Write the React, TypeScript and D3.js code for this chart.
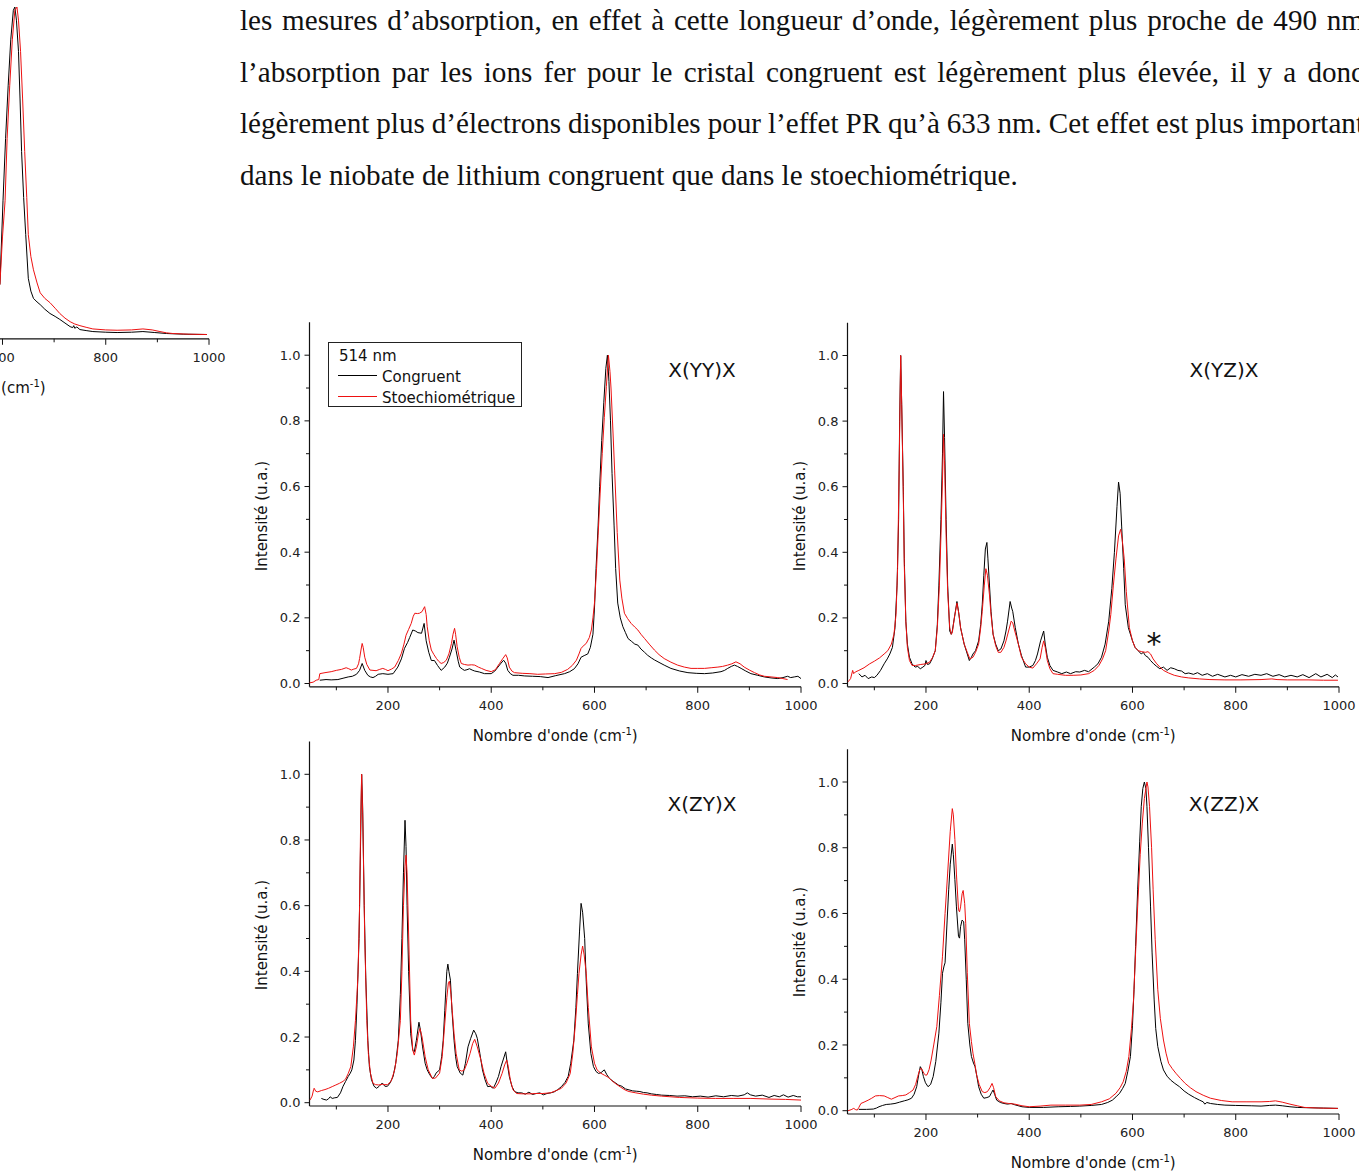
import React, { useEffect, useRef } from "react";
import * as d3 from "d3";

type Pt = [number, number];

// ---------- Paragraph text ----------
const paragraphLines: string[] = [
  "les mesures d’absorption, en effet à cette longueur d’onde, légèrement plus proche de 490 nm",
  "l’absorption par les ions fer pour le cristal congruent est légèrement plus élevée, il y a donc",
  "légèrement plus d’électrons disponibles pour l’effet PR qu’à 633 nm. Cet effet est plus important",
  "dans le niobate de lithium congruent que dans le stoechiométrique.",
];

// ---------- Tick values ----------
const xMajorTicks = [200, 400, 600, 800, 1000];
const xMinorTicks = [100, 300, 500, 700, 900];
const yMajorTicks = [0, 0.2, 0.4, 0.6, 0.8, 1.0];
const yMinorTicks = [0.1, 0.3, 0.5, 0.7, 0.9];

const legendTitle = "514 nm";
const seriesNames = ["Congruent", "Stoechiométrique"];
const panelTitles = ["X(YY)X", "X(YZ)X", "X(ZY)X", "X(ZZ)X"];

// ---------- Spectra (wavenumber cm-1, normalised intensity) ----------
// Partially visible spectrum on the left edge
const leftCongruent: Pt[] = [[595,0.155],[601,0.410],[606,0.600],[611,0.760],[616,0.900],[621,0.990],[624,1.000],[627,0.960],[631,0.865],[634,0.720],[637,0.560],[641,0.420],[645,0.307],[650,0.174],[655,0.135],[660,0.113],[667,0.102],[673,0.094],[682,0.080],[692,0.067],[702,0.058],[711,0.049],[721,0.038],[731,0.027],[736,0.024],[738,0.030],[740,0.022],[744,0.026],[750,0.018],[762,0.015],[775,0.012],[800,0.010],[822,0.009],[850,0.010],[872,0.012],[895,0.009],[918,0.006],[950,0.004],[996,0.003]];
const leftStoech: Pt[] = [[595,0.155],[600,0.300],[605,0.410],[609,0.600],[614,0.760],[619,0.900],[624,0.990],[628,1.000],[631,0.960],[635,0.865],[639,0.720],[643,0.560],[647,0.420],[650,0.307],[655,0.240],[660,0.200],[667,0.160],[673,0.130],[682,0.113],[692,0.100],[702,0.083],[711,0.067],[721,0.053],[731,0.042],[740,0.035],[750,0.030],[762,0.025],[775,0.020],[800,0.017],[822,0.016],[850,0.017],[872,0.020],[890,0.017],[905,0.012],[918,0.008],[930,0.006],[960,0.004],[996,0.003]];

// X(YY)X
const yyCongruent: Pt[] = [[68,0.010],[80,0.012],[90,0.011],[103,0.012],[113,0.016],[123,0.020],[131,0.022],[139,0.028],[145,0.040],[150,0.061],[155,0.040],[161,0.025],[166,0.020],[171,0.018],[176,0.022],[181,0.028],[190,0.030],[200,0.028],[210,0.030],[219,0.050],[226,0.075],[232,0.107],[238,0.125],[242,0.140],[248,0.163],[253,0.160],[258,0.155],[265,0.153],[270,0.183],[274,0.130],[279,0.095],[284,0.070],[290,0.070],[296,0.055],[303,0.040],[310,0.050],[315,0.062],[319,0.080],[324,0.105],[328,0.132],[332,0.100],[336,0.068],[339,0.050],[344,0.044],[348,0.040],[353,0.042],[358,0.045],[363,0.041],[368,0.038],[377,0.035],[387,0.030],[400,0.030],[407,0.038],[413,0.050],[419,0.062],[424,0.071],[428,0.062],[432,0.040],[437,0.030],[442,0.025],[453,0.025],[465,0.023],[480,0.022],[495,0.021],[510,0.018],[525,0.024],[542,0.030],[552,0.036],[561,0.045],[568,0.060],[574,0.080],[580,0.085],[587,0.090],[592,0.110],[597,0.150],[600,0.230],[603,0.350],[607,0.480],[610,0.600],[614,0.740],[618,0.855],[622,0.960],[625,1.000],[628,0.920],[631,0.800],[634,0.640],[638,0.480],[641,0.350],[645,0.245],[650,0.200],[655,0.173],[660,0.155],[665,0.137],[672,0.128],[678,0.120],[684,0.117],[690,0.105],[697,0.095],[703,0.086],[710,0.078],[716,0.072],[723,0.066],[735,0.056],[748,0.046],[765,0.038],[781,0.033],[797,0.031],[813,0.030],[829,0.032],[845,0.036],[852,0.040],[858,0.046],[865,0.052],[871,0.056],[877,0.052],[884,0.046],[893,0.038],[903,0.030],[916,0.025],[929,0.020],[942,0.017],[955,0.015],[965,0.018],[974,0.022],[980,0.018],[987,0.020],[994,0.022],[1000,0.015]];
const yyStoech: Pt[] = [[48,0.002],[55,0.004],[61,0.010],[66,0.012],[68,0.030],[78,0.033],[90,0.036],[100,0.040],[110,0.043],[119,0.048],[124,0.045],[129,0.041],[134,0.044],[139,0.046],[143,0.060],[145,0.076],[148,0.105],[150,0.122],[152,0.110],[155,0.080],[159,0.058],[165,0.041],[171,0.040],[177,0.039],[184,0.043],[190,0.046],[195,0.043],[200,0.039],[207,0.044],[213,0.050],[220,0.070],[226,0.092],[231,0.120],[235,0.147],[240,0.165],[245,0.183],[249,0.205],[252,0.214],[257,0.213],[261,0.214],[266,0.219],[271,0.234],[274,0.210],[276,0.173],[280,0.130],[284,0.102],[289,0.088],[294,0.076],[298,0.068],[303,0.061],[308,0.064],[313,0.071],[318,0.090],[323,0.122],[326,0.150],[329,0.168],[331,0.150],[334,0.112],[338,0.080],[342,0.061],[348,0.058],[355,0.056],[362,0.057],[368,0.056],[375,0.050],[381,0.046],[390,0.040],[400,0.036],[408,0.042],[416,0.061],[422,0.075],[428,0.088],[431,0.078],[435,0.050],[440,0.038],[445,0.033],[460,0.031],[475,0.030],[490,0.028],[505,0.029],[523,0.030],[536,0.034],[548,0.043],[557,0.055],[565,0.071],[570,0.090],[574,0.107],[580,0.117],[584,0.122],[590,0.140],[594,0.163],[597,0.200],[600,0.245],[604,0.350],[607,0.450],[611,0.580],[615,0.700],[619,0.810],[623,0.905],[627,1.000],[630,0.950],[632,0.900],[636,0.760],[639,0.650],[644,0.460],[649,0.315],[653,0.260],[658,0.214],[664,0.198],[671,0.183],[678,0.172],[684,0.163],[690,0.150],[697,0.137],[706,0.120],[716,0.102],[725,0.088],[735,0.076],[748,0.065],[761,0.056],[774,0.050],[787,0.046],[800,0.046],[813,0.046],[826,0.048],[839,0.050],[848,0.052],[858,0.056],[866,0.060],[874,0.066],[882,0.060],[890,0.050],[900,0.041],[910,0.033],[920,0.026],[929,0.022],[942,0.020],[955,0.018],[965,0.015],[974,0.012]];

// X(YZ)X
const yzCongruent: Pt[] = [[70,0.030],[76,0.020],[82,0.025],[88,0.015],[95,0.020],[100,0.018],[105,0.025],[112,0.040],[119,0.060],[125,0.075],[130,0.090],[135,0.110],[140,0.170],[144,0.300],[147,0.500],[149,0.800],[151,1.000],[153,0.850],[156,0.600],[158,0.380],[161,0.190],[164,0.120],[168,0.080],[173,0.060],[179,0.050],[184,0.052],[189,0.045],[194,0.050],[198,0.055],[200,0.070],[203,0.058],[207,0.060],[212,0.075],[218,0.100],[222,0.180],[225,0.300],[229,0.500],[232,0.700],[234,0.890],[236,0.750],[239,0.500],[242,0.300],[246,0.160],[249,0.150],[251,0.160],[255,0.200],[260,0.250],[263,0.220],[267,0.170],[274,0.120],[280,0.090],[284,0.070],[288,0.080],[291,0.090],[296,0.100],[302,0.130],[306,0.180],[309,0.240],[312,0.330],[315,0.410],[318,0.430],[320,0.380],[323,0.300],[326,0.220],[330,0.150],[335,0.120],[340,0.100],[345,0.105],[351,0.130],[355,0.160],[358,0.190],[363,0.250],[366,0.230],[368,0.220],[373,0.170],[379,0.120],[385,0.085],[393,0.050],[400,0.050],[407,0.055],[412,0.070],[416,0.090],[422,0.130],[428,0.160],[431,0.120],[435,0.080],[440,0.055],[446,0.040],[455,0.035],[463,0.030],[472,0.035],[480,0.030],[490,0.036],[498,0.035],[507,0.040],[515,0.036],[526,0.050],[533,0.060],[540,0.080],[547,0.120],[554,0.190],[560,0.290],[565,0.400],[570,0.540],[573,0.614],[576,0.580],[579,0.480],[583,0.350],[586,0.240],[592,0.170],[600,0.130],[605,0.110],[611,0.100],[617,0.090],[621,0.095],[625,0.085],[630,0.080],[635,0.070],[641,0.060],[647,0.052],[653,0.045],[660,0.050],[667,0.040],[674,0.048],[681,0.045],[688,0.040],[695,0.038],[702,0.030],[709,0.032],[718,0.028],[726,0.033],[735,0.025],[745,0.030],[755,0.022],[765,0.028],[779,0.020],[790,0.025],[800,0.020],[812,0.027],[825,0.022],[837,0.028],[849,0.025],[860,0.030],[872,0.022],[884,0.027],[895,0.020],[907,0.025],[919,0.020],[930,0.027],[942,0.018],[955,0.030],[965,0.020],[977,0.028],[987,0.018],[993,0.026],[998,0.020]];
const yzStoech: Pt[] = [[49,0.005],[54,0.015],[58,0.040],[60,0.030],[63,0.035],[70,0.040],[80,0.048],[91,0.060],[100,0.068],[110,0.078],[119,0.090],[126,0.100],[133,0.120],[138,0.150],[142,0.210],[145,0.350],[148,0.650],[151,1.000],[153,0.850],[156,0.580],[158,0.360],[161,0.190],[164,0.110],[168,0.070],[173,0.055],[180,0.055],[190,0.058],[200,0.060],[207,0.065],[213,0.080],[218,0.100],[222,0.170],[226,0.300],[229,0.450],[232,0.620],[234,0.760],[236,0.680],[239,0.450],[242,0.280],[246,0.170],[249,0.150],[251,0.155],[255,0.200],[260,0.245],[264,0.210],[267,0.170],[274,0.120],[280,0.095],[285,0.075],[291,0.080],[296,0.095],[302,0.120],[306,0.170],[309,0.220],[313,0.300],[316,0.350],[319,0.330],[323,0.270],[326,0.210],[330,0.150],[335,0.115],[340,0.095],[345,0.095],[351,0.110],[355,0.130],[360,0.160],[365,0.190],[368,0.185],[372,0.160],[379,0.120],[385,0.080],[393,0.060],[400,0.050],[407,0.047],[414,0.060],[421,0.075],[425,0.110],[428,0.130],[431,0.110],[435,0.070],[440,0.045],[446,0.030],[455,0.028],[470,0.025],[485,0.025],[500,0.026],[515,0.030],[526,0.040],[535,0.055],[542,0.075],[548,0.100],[554,0.160],[558,0.210],[563,0.300],[568,0.380],[573,0.450],[577,0.470],[580,0.440],[584,0.380],[588,0.280],[594,0.170],[600,0.130],[605,0.110],[611,0.100],[618,0.097],[625,0.095],[630,0.097],[635,0.090],[640,0.075],[646,0.062],[653,0.050],[660,0.040],[670,0.032],[681,0.025],[695,0.020],[709,0.017],[730,0.014],[750,0.012],[779,0.011],[810,0.011],[849,0.012],[870,0.014],[880,0.012],[900,0.011],[940,0.011],[970,0.010],[998,0.010]];

// X(ZY)X
const zyCongruent: Pt[] = [[71,0.013],[76,0.010],[81,0.008],[85,0.012],[88,0.018],[92,0.013],[97,0.015],[102,0.016],[108,0.030],[113,0.050],[118,0.065],[123,0.080],[127,0.090],[130,0.100],[134,0.130],[137,0.190],[140,0.300],[144,0.500],[147,0.800],[149,1.000],[151,0.900],[154,0.600],[157,0.380],[161,0.190],[164,0.110],[168,0.070],[173,0.050],[178,0.044],[183,0.050],[189,0.060],[194,0.050],[199,0.050],[204,0.060],[210,0.080],[215,0.120],[220,0.190],[224,0.330],[227,0.500],[230,0.700],[233,0.860],[235,0.780],[237,0.600],[240,0.400],[244,0.210],[248,0.160],[251,0.155],[255,0.190],[260,0.245],[263,0.220],[267,0.170],[272,0.120],[276,0.100],[281,0.085],[286,0.074],[290,0.080],[293,0.090],[300,0.100],[304,0.140],[307,0.190],[310,0.280],[312,0.343],[314,0.400],[316,0.422],[318,0.400],[321,0.373],[324,0.280],[328,0.190],[331,0.140],[334,0.110],[340,0.090],[345,0.084],[350,0.120],[355,0.170],[360,0.195],[366,0.221],[370,0.210],[373,0.196],[378,0.150],[383,0.100],[388,0.070],[393,0.049],[398,0.050],[404,0.044],[409,0.060],[414,0.080],[419,0.110],[423,0.130],[428,0.155],[431,0.120],[435,0.080],[440,0.050],[445,0.034],[452,0.030],[459,0.030],[466,0.026],[473,0.032],[480,0.025],[487,0.028],[494,0.030],[501,0.024],[508,0.028],[515,0.030],[522,0.033],[529,0.040],[536,0.049],[543,0.062],[549,0.080],[554,0.120],[560,0.190],[564,0.290],[567,0.394],[571,0.520],[574,0.607],[577,0.580],[581,0.500],[584,0.370],[588,0.240],[593,0.150],[598,0.110],[603,0.095],[608,0.089],[613,0.092],[619,0.100],[624,0.085],[629,0.074],[636,0.065],[641,0.060],[646,0.054],[653,0.050],[660,0.042],[667,0.039],[674,0.036],[681,0.035],[688,0.034],[695,0.031],[702,0.030],[710,0.027],[720,0.025],[730,0.023],[745,0.022],[760,0.020],[775,0.021],[790,0.018],[805,0.020],[820,0.017],[835,0.021],[850,0.018],[865,0.022],[878,0.020],[890,0.024],[896,0.030],[902,0.024],[912,0.020],[925,0.023],[938,0.016],[948,0.022],[958,0.018],[966,0.024],[975,0.017],[985,0.022],[993,0.018],[1000,0.018]];
const zyStoech: Pt[] = [[49,0.008],[53,0.020],[56,0.040],[57,0.044],[60,0.035],[64,0.033],[71,0.037],[78,0.040],[85,0.044],[92,0.049],[99,0.054],[106,0.059],[113,0.065],[118,0.072],[123,0.089],[128,0.110],[133,0.170],[137,0.250],[140,0.330],[142,0.390],[145,0.600],[147,0.850],[149,1.000],[151,0.880],[155,0.500],[159,0.250],[162,0.150],[166,0.090],[171,0.059],[176,0.055],[182,0.054],[189,0.056],[194,0.055],[199,0.055],[206,0.065],[213,0.100],[218,0.150],[224,0.250],[227,0.400],[230,0.600],[233,0.720],[235,0.754],[237,0.700],[241,0.450],[244,0.250],[248,0.160],[251,0.145],[255,0.170],[259,0.210],[262,0.226],[266,0.200],[272,0.140],[278,0.100],[286,0.074],[292,0.075],[300,0.090],[305,0.140],[310,0.240],[314,0.320],[317,0.365],[319,0.370],[322,0.330],[325,0.270],[328,0.210],[332,0.150],[338,0.100],[343,0.096],[348,0.100],[353,0.120],[359,0.150],[364,0.180],[368,0.193],[373,0.170],[380,0.130],[386,0.090],[393,0.059],[400,0.050],[407,0.044],[414,0.060],[421,0.089],[426,0.115],[430,0.130],[433,0.110],[437,0.069],[442,0.040],[449,0.028],[460,0.027],[475,0.027],[487,0.028],[500,0.028],[515,0.030],[526,0.037],[536,0.044],[545,0.060],[553,0.089],[558,0.150],[563,0.240],[567,0.330],[570,0.394],[574,0.450],[577,0.477],[580,0.450],[584,0.394],[588,0.290],[594,0.170],[600,0.120],[605,0.100],[612,0.090],[619,0.084],[626,0.078],[633,0.068],[640,0.059],[650,0.048],[660,0.038],[667,0.034],[680,0.030],[695,0.026],[710,0.023],[730,0.020],[765,0.016],[800,0.014],[834,0.013],[870,0.013],[903,0.013],[940,0.011],[970,0.010],[1000,0.008]];

// X(ZZ)X
const zzCongruent: Pt[] = [[70,0.004],[85,0.004],[98,0.005],[104,0.008],[109,0.012],[116,0.016],[123,0.019],[131,0.020],[140,0.022],[149,0.026],[158,0.030],[165,0.033],[172,0.038],[177,0.050],[182,0.073],[186,0.110],[189,0.134],[192,0.125],[195,0.104],[199,0.085],[204,0.073],[209,0.080],[214,0.104],[219,0.150],[225,0.236],[229,0.330],[232,0.418],[235,0.440],[237,0.450],[241,0.580],[244,0.672],[247,0.750],[251,0.811],[253,0.780],[256,0.703],[259,0.620],[263,0.530],[265,0.525],[267,0.560],[270,0.580],[273,0.575],[275,0.520],[278,0.400],[281,0.266],[285,0.200],[288,0.165],[292,0.145],[295,0.134],[298,0.110],[302,0.073],[307,0.050],[312,0.038],[318,0.040],[323,0.043],[327,0.055],[330,0.063],[333,0.050],[337,0.032],[344,0.025],[351,0.022],[358,0.020],[365,0.022],[372,0.018],[386,0.012],[400,0.010],[428,0.010],[456,0.012],[480,0.013],[498,0.014],[520,0.016],[540,0.019],[552,0.025],[561,0.032],[568,0.042],[575,0.053],[581,0.068],[586,0.083],[591,0.120],[596,0.165],[600,0.260],[603,0.368],[606,0.500],[610,0.672],[614,0.820],[617,0.926],[620,0.980],[623,1.000],[626,0.980],[628,0.926],[631,0.800],[635,0.620],[638,0.480],[642,0.337],[645,0.250],[649,0.195],[655,0.150],[660,0.124],[667,0.105],[674,0.093],[682,0.083],[691,0.073],[700,0.060],[709,0.050],[720,0.040],[730,0.032],[737,0.027],[740,0.020],[744,0.025],[751,0.022],[765,0.019],[779,0.017],[800,0.016],[830,0.015],[849,0.014],[865,0.016],[877,0.017],[890,0.015],[905,0.012],[919,0.010],[940,0.009],[970,0.008],[998,0.007]];
const zzStoech: Pt[] = [[49,0.000],[55,0.003],[60,0.007],[64,0.003],[67,0.002],[70,0.010],[74,0.022],[80,0.026],[88,0.032],[95,0.038],[102,0.045],[110,0.046],[119,0.045],[126,0.040],[133,0.035],[140,0.040],[147,0.045],[154,0.046],[161,0.048],[168,0.055],[175,0.063],[180,0.080],[184,0.104],[188,0.125],[191,0.129],[194,0.120],[196,0.114],[199,0.108],[202,0.109],[206,0.125],[210,0.154],[215,0.200],[221,0.256],[226,0.350],[232,0.470],[237,0.600],[242,0.723],[247,0.850],[251,0.919],[253,0.900],[256,0.825],[259,0.720],[263,0.611],[265,0.605],[267,0.620],[270,0.660],[272,0.670],[275,0.630],[277,0.570],[280,0.420],[284,0.266],[288,0.210],[291,0.175],[295,0.140],[298,0.109],[303,0.080],[309,0.058],[314,0.055],[319,0.058],[324,0.070],[328,0.083],[331,0.070],[335,0.043],[342,0.030],[351,0.024],[360,0.022],[372,0.020],[386,0.015],[400,0.012],[421,0.014],[442,0.017],[470,0.017],[498,0.017],[520,0.019],[540,0.027],[555,0.036],[568,0.053],[576,0.070],[582,0.088],[588,0.120],[593,0.165],[598,0.250],[602,0.337],[606,0.480],[610,0.620],[615,0.780],[619,0.875],[623,0.950],[628,1.000],[630,0.985],[633,0.926],[637,0.800],[640,0.672],[644,0.520],[649,0.368],[654,0.280],[660,0.215],[665,0.175],[670,0.144],[677,0.128],[684,0.114],[693,0.098],[702,0.083],[712,0.070],[723,0.058],[737,0.047],[751,0.038],[772,0.031],[793,0.027],[820,0.027],[849,0.027],[865,0.028],[877,0.030],[890,0.026],[905,0.020],[919,0.015],[933,0.010],[960,0.008],[998,0.007]];

// ---------- Layout ----------
const SANS = "'DejaVu Sans', Verdana, sans-serif";
const SERIF = "'Liberation Serif', 'DejaVu Serif', serif";
const BLACK = "#000000";
const RED = "#ee1111";
const X_MIN = 48;
const X_MAX = 1000;

interface PanelProps {
  px0: number; px1: number; py0: number; py1: number;
  black: Pt[]; red: Pt[];
  title?: string; titleX?: number; titleY?: number;
  ylabX: number; ylabY: number;
}

function XLabel({ x, y }: { x: number; y: number }) {
  return (
    <text x={x} y={y} textAnchor="middle" fontFamily={SANS} fontSize={15} fill="#111">
      Nombre d'onde (cm
      <tspan fontSize={10} dy={-6}>-1</tspan>
      <tspan dy={6}>)</tspan>
    </text>
  );
}

function Panel(p: PanelProps) {
  const x = d3.scaleLinear().domain([X_MIN, X_MAX]).range([p.px0, p.px1]);
  const y = d3.scaleLinear().domain([0, 1]).range([p.py0, p.py1]);
  const line = d3.line<Pt>().x((d) => x(d[0])).y((d) => y(d[1]));
  const axY = y(-0.01);
  const axTop = y(1.1);
  const fmt = d3.format(".1f");
  return (
    <g>
      {/* axes */}
      <line x1={x(X_MIN)} x2={x(X_MAX)} y1={axY} y2={axY} stroke="#111" strokeWidth={1.2} />
      <line x1={x(X_MIN)} x2={x(X_MIN)} y1={axY} y2={axTop} stroke="#111" strokeWidth={1.2} />
      {xMajorTicks.map((t) => (
        <g key={"xm" + t}>
          <line x1={x(t)} x2={x(t)} y1={axY} y2={axY + 6} stroke="#111" strokeWidth={1} />
          <text x={x(t)} y={p.py0 + 26.5} textAnchor="middle" fontFamily={SANS} fontSize={13} fill="#222">{t}</text>
        </g>
      ))}
      {xMinorTicks.map((t) => (
        <line key={"xn" + t} x1={x(t)} x2={x(t)} y1={axY} y2={axY + 3.5} stroke="#111" strokeWidth={1} />
      ))}
      {yMajorTicks.map((t) => (
        <g key={"ym" + t}>
          <line x1={x(X_MIN)} x2={x(X_MIN) - 5} y1={y(t)} y2={y(t)} stroke="#111" strokeWidth={1} />
          <text x={x(X_MIN) - 9} y={y(t)} dy="0.35em" textAnchor="end" fontFamily={SANS} fontSize={13} fill="#222">{fmt(t)}</text>
        </g>
      ))}
      {yMinorTicks.map((t) => (
        <line key={"yn" + t} x1={x(X_MIN)} x2={x(X_MIN) - 3.5} y1={y(t)} y2={y(t)} stroke="#111" strokeWidth={1} />
      ))}
      <text transform={`translate(${p.ylabX},${p.ylabY}) rotate(-90)`} textAnchor="middle" dy="0.35em" fontFamily={SANS} fontSize={15} fill="#111">
        Intensité (u.a.)
      </text>
      <XLabel x={(p.px0 + p.px1) / 2} y={p.py0 + 57} />
      {/* spectra */}
      <path d={line(p.black) || ""} fill="none" stroke={BLACK} strokeWidth={1} strokeLinejoin="round" />
      <path d={line(p.red) || ""} fill="none" stroke={RED} strokeWidth={1} strokeLinejoin="round" />
      {p.title && (
        <text x={p.titleX} y={p.titleY} dy="0.35em" textAnchor="middle" fontFamily={SANS} fontSize={20} fill="#111">{p.title}</text>
      )}
    </g>
  );
}

export default function App() {
  const textRef = useRef<SVGGElement>(null);

  useEffect(() => {
    const g = textRef.current;
    if (!g) return;
    const sel = d3.select(g).selectAll<SVGTextElement, string>("text");
    const nodes = sel.nodes();
    // scale font so the last (natural) line spans 240 -> 1018
    const base = 26;
    nodes.forEach((n) => n.setAttribute("font-size", String(base)));
    const w4 = nodes[3].getComputedTextLength();
    const fs = base * (778 / w4);
    nodes.forEach((n) => n.setAttribute("font-size", fs.toFixed(2)));
    const target = 1364 - 240;
    nodes.forEach((n, i) => {
      if (i === 3) return;
      const w = n.getComputedTextLength();
      const spaces = (paragraphLines[i].match(/ /g) || []).length;
      n.setAttribute("word-spacing", ((target - w) / spaces).toFixed(3));
    });
  }, []);

  const baselines = [30, 81.5, 133, 184.5];

  return (
    <svg width={1359} height={1173} style={{ position: "absolute", left: 0, top: 0, background: "#fff" }}>
      <rect x={0} y={0} width={1359} height={1173} fill="#fff" />
      <g ref={textRef}>
        {paragraphLines.map((l, i) => (
          <text key={i} x={240} y={baselines[i]} fontFamily={SERIF} fontSize={26} fill="#111">{l}</text>
        ))}
      </g>

      {/* partially visible spectrum at the left edge */}
      <Panel px0={-282.5} px1={209} py0={335.5} py1={7} black={leftCongruent} red={leftStoech} ylabX={-330} ylabY={170} />

      <Panel px0={309.5} px1={801} py0={683.5} py1={355.2} black={yyCongruent} red={yyStoech}
        title={panelTitles[0]} titleX={702} titleY={370} ylabX={262} ylabY={516} />
      <Panel px0={847.5} px1={1339} py0={683.5} py1={355.5} black={yzCongruent} red={yzStoech}
        title={panelTitles[1]} titleX={1224} titleY={370} ylabX={800} ylabY={516} />
      <Panel px0={309.5} px1={801} py0={1102.7} py1={774.3} black={zyCongruent} red={zyStoech}
        title={panelTitles[2]} titleX={702} titleY={804} ylabX={262} ylabY={935} />
      <Panel px0={847.5} px1={1339} py0={1110.7} py1={782} black={zzCongruent} red={zzStoech}
        title={panelTitles[3]} titleX={1224} titleY={804} ylabX={800} ylabY={942} />

      {/* asterisk mark on X(YZ)X */}
      <text x={1154} y={654} textAnchor="middle" fontFamily={SANS} fontSize={30} fill="#111">*</text>

      {/* legend */}
      <g>
        <rect x={328.5} y={342.5} width={193} height={64} fill="#fff" stroke="#222" strokeWidth={1} />
        <text x={339} y={361} fontFamily={SANS} fontSize={15} fill="#111">{legendTitle}</text>
        <line x1={338} x2={377} y1={375.5} y2={375.5} stroke={BLACK} strokeWidth={1} />
        <text x={382} y={382} fontFamily={SANS} fontSize={15} fill="#111">{seriesNames[0]}</text>
        <line x1={338} x2={377} y1={396.5} y2={396.5} stroke={RED} strokeWidth={1} />
        <text x={382} y={403} fontFamily={SANS} fontSize={15} fill="#111">{seriesNames[1]}</text>
      </g>
    </svg>
  );
}
